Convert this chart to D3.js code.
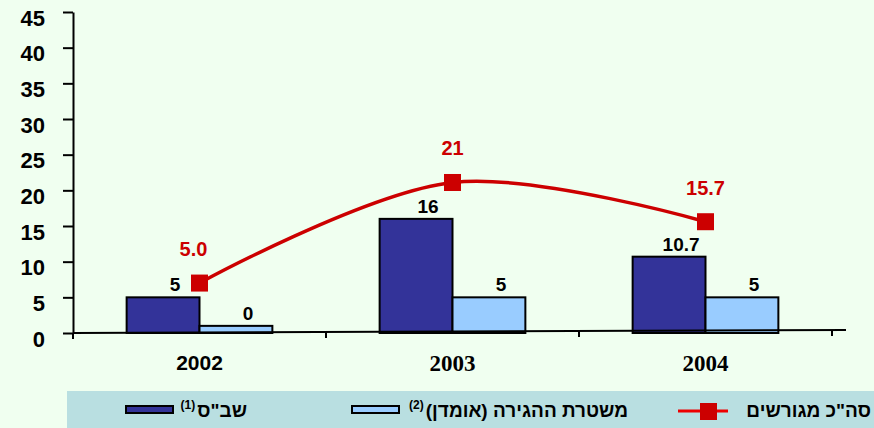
<!DOCTYPE html>
<html>
<head>
<meta charset="utf-8">
<script src="https://cdn.jsdelivr.net/npm/d3@7"></script>
<style>
  body { margin: 0; background: #f0fff0; }
  svg { display: block; }
</style>
</head>
<body>
<div id="chart"></div>
<script>
// data
var years = ["2002", "2003", "2004"];
var prisonVals = [5, 16, 10.7];
var prisonLabels = ["5", "16", "10.7"];
var immigVals = [1, 5, 5];
var immigLabels = ["0", "5", "5"];
var totalVals = [7, 21.1, 15.6];
var totalLabels = ["5.0", "21", "15.7"];
var yTicks = [0, 5, 10, 15, 20, 25, 30, 35, 40, 45];
var legendNames = ['שב"ס', "\u200Fמשטרת ההגירה (אומדן)\u200F", 'סה"כ מגורשים'];
var legendNotes = ["(1)", "(2)", ""];

var W = 874, H = 428;
var colors = ["#333399", "#99ccff"];
var red = "#cc0000";

var svg = d3.select("#chart").append("svg")
    .attr("width", W).attr("height", H)
    .style("font-family", "Arial, 'Liberation Sans', sans-serif");

svg.append("rect").attr("width", W).attr("height", H).attr("fill", "#f0fff0");

var x = d3.scaleBand().domain(years).range([73, 832]);
var y = d3.scaleLinear().domain([0, 45]).range([333, 12]);
var barW = x.bandwidth() * 0.288;

// bars
var series = [prisonVals, immigVals];
var seriesLabels = [prisonLabels, immigLabels];
series.forEach(function(vals, s) {
  svg.append("g").selectAll("rect")
    .data(vals)
    .enter().append("rect")
      .attr("x", function(d, i) { return x(years[i]) + x.bandwidth() / 2 - barW + s * barW; })
      .attr("y", function(d) { return y(d); })
      .attr("width", barW)
      .attr("height", function(d) { return y(0) - y(d); })
      .attr("fill", colors[s])
      .attr("stroke", "#000")
      .attr("stroke-width", 2);

  svg.append("g").selectAll("text")
    .data(vals)
    .enter().append("text")
      .attr("x", function(d, i) { return x(years[i]) + x.bandwidth() / 2 - barW / 2 + s * barW + 12; })
      .attr("y", function(d) { return y(d) - 6; })
      .attr("text-anchor", "middle")
      .attr("font-size", 19)
      .attr("font-weight", "bold")
      .attr("fill", "#000")
      .text(function(d, i) { return seriesLabels[s][i]; });
});

// y axis
var yAxis = svg.append("g")
    .attr("transform", "translate(73,0)")
    .call(d3.axisLeft(y).tickValues(yTicks).tickSize(10).tickSizeOuter(0).tickPadding(18));
yAxis.select(".domain").attr("stroke-width", 2);
yAxis.selectAll(".tick line").attr("stroke-width", 2);
yAxis.selectAll(".tick text")
    .attr("font-size", 22).attr("font-weight", "bold")
    .attr("font-family", "Arial, 'Liberation Sans', sans-serif")
    .attr("fill", "#000").attr("dy", "0.6em");
svg.append("line")
    .attr("x1", 73).attr("x2", 73).attr("y1", y(0)).attr("y2", y(0) + 6)
    .attr("stroke", "#000").attr("stroke-width", 2);

// x axis (slightly tilted in the original)
svg.append("line")
    .attr("x1", x.range()[0]).attr("y1", y(0))
    .attr("x2", x.range()[1] + 14).attr("y2", y(0) - 3)
    .attr("stroke", "#000").attr("stroke-width", 2);
var edges = years.slice(1).map(function(d) { return x(d); }).concat([x.range()[1]]);
svg.append("g").selectAll("line")
    .data(edges)
    .enter().append("line")
      .attr("x1", function(d) { return d; }).attr("x2", function(d) { return d; })
      .attr("y1", function(d) { return y(0) - 3 * (d - 73) / 773; })
      .attr("y2", function(d) { return y(0) - 3 * (d - 73) / 773 + 6; })
      .attr("stroke", "#000").attr("stroke-width", 2);

var xAxis = svg.append("g")
    .attr("transform", "translate(0," + y(0) + ")")
    .call(d3.axisBottom(x).tickSize(0).tickPadding(22));
xAxis.select(".domain").remove();
xAxis.selectAll(".tick text")
    .attr("font-weight", "bold").attr("fill", "#000")
    .attr("font-family", function(d, i) {
      return i === 0 ? "Arial, 'Liberation Sans', sans-serif" : "'Times New Roman', 'Liberation Serif', serif";
    })
    .attr("font-size", function(d, i) { return i === 0 ? 21 : 23; });

// total line
var line = d3.line()
    .x(function(d, i) { return x(years[i]) + x.bandwidth() / 2; })
    .y(function(d) { return y(d); })
    .curve(d3.curveCatmullRom.alpha(0.5));
svg.append("path")
    .datum(totalVals)
    .attr("d", line)
    .attr("fill", "none")
    .attr("stroke", red)
    .attr("stroke-width", 3.5);
svg.append("g").selectAll("rect")
    .data(totalVals)
    .enter().append("rect")
      .attr("x", function(d, i) { return x(years[i]) + x.bandwidth() / 2 - 8.5; })
      .attr("y", function(d) { return y(d) - 8.5; })
      .attr("width", 17).attr("height", 17)
      .attr("fill", red);
svg.append("g").selectAll("text")
    .data(totalVals)
    .enter().append("text")
      .attr("x", function(d, i) { return x(years[i]) + x.bandwidth() / 2 - (i === 0 ? 6 : 0); })
      .attr("y", function(d) { return y(d) - 27; })
      .attr("text-anchor", "middle")
      .attr("font-size", 20).attr("font-weight", "bold")
      .attr("fill", red)
      .text(function(d, i) { return totalLabels[i]; });

// legend
svg.append("rect")
    .attr("x", 67).attr("y", 391).attr("width", W - 67).attr("height", H - 391)
    .attr("fill", "#b9dfe1");

var legendRight = [247, 628, 871];
var legendSwatch = [126, 352, 678];
legendNames.forEach(function(name, i) {
  var g = svg.append("g");
  var t = g.append("text")
      .attr("x", legendRight[i]).attr("y", 417)
      .attr("text-anchor", "end")
      .attr("font-size", 19).attr("font-weight", "bold").attr("fill", "#000")
      .text(name);
  if (legendNotes[i]) {
    var left = legendRight[i] - t.node().getComputedTextLength();
    g.append("text")
        .attr("x", left - 2).attr("y", 409)
        .attr("text-anchor", "end")
        .attr("font-size", 12).attr("font-weight", "bold").attr("fill", "#000")
        .text(legendNotes[i]);
  }
  if (i < 2) {
    g.append("rect")
        .attr("x", legendSwatch[i]).attr("y", 406)
        .attr("width", 47).attr("height", 7)
        .attr("fill", colors[i]).attr("stroke", "#000").attr("stroke-width", 2);
  } else {
    g.append("line")
        .attr("x1", legendSwatch[i]).attr("x2", legendSwatch[i] + 50)
        .attr("y1", 411).attr("y2", 411)
        .attr("stroke", "#ee0000").attr("stroke-width", 3);
    g.append("rect")
        .attr("x", legendSwatch[i] + 22).attr("y", 403)
        .attr("width", 17).attr("height", 17)
        .attr("fill", red);
  }
});
</script>
</body>
</html>
